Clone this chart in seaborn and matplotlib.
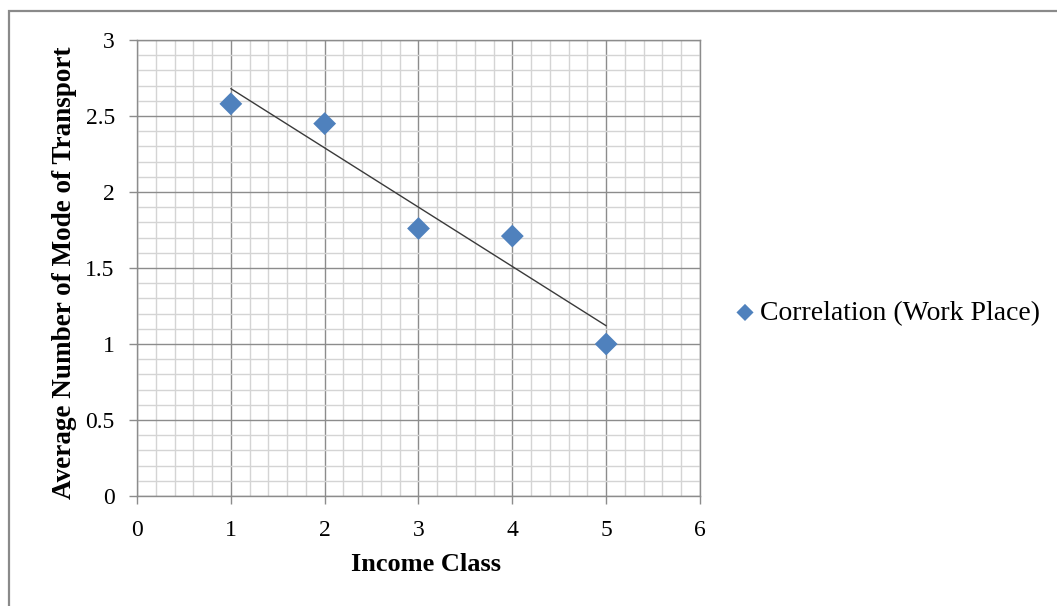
import matplotlib
matplotlib.use("Agg")
import matplotlib.pyplot as plt
from matplotlib.patches import Rectangle
from matplotlib.ticker import MultipleLocator
import numpy as np
import pandas as pd
import seaborn as sns

# Average number of transport modes by income class
income_class = [1, 2, 3, 4, 5]
avg_modes = [2.58, 2.45, 1.76, 1.71, 1.00]
series_label = "Correlation (Work Place)"

x_ticks = [0, 1, 2, 3, 4, 5, 6]
y_ticks = [0, 0.5, 1, 1.5, 2, 2.5, 3]

sns.set_theme(style="white")
plt.rcParams["font.family"] = ["Liberation Serif", "DejaVu Serif"]
plt.rcParams["text.color"] = "black"
plt.rcParams["axes.labelcolor"] = "black"

df = pd.DataFrame({"Income Class": income_class, "Average": avg_modes})

fig = plt.figure(figsize=(10.57, 6.06), dpi=100)
ax = fig.add_axes([137 / 1057, 1 - 496 / 606, (700 - 137) / 1057, (496 - 40) / 606])

# outer chart frame
fig.patches.append(Rectangle((9 / 1057, -0.1), 1.2, 1 - 11 / 606 + 0.1,
                             transform=fig.transFigure, fill=False,
                             edgecolor="#8a8a8a", linewidth=1.6, zorder=0))

major_c = "#8c8c8c"
minor_c = "#d4d4d4"

ax.set_xlim(0, 6)
ax.set_ylim(0, 3)
ax.xaxis.set_major_locator(MultipleLocator(1))
ax.xaxis.set_minor_locator(MultipleLocator(0.2))
ax.yaxis.set_major_locator(MultipleLocator(0.5))
ax.yaxis.set_minor_locator(MultipleLocator(0.1))
ax.grid(which="minor", color=minor_c, linewidth=1.0, zorder=0)
ax.grid(which="major", color=major_c, linewidth=1.0, zorder=0)
ax.set_axisbelow(True)

# linear trendline over the data range
sns.regplot(data=df, x="Income Class", y="Average", ax=ax, scatter=False,
            ci=None, truncate=True,
            line_kws={"color": "#3a3a3a", "linewidth": 1.0, "zorder": 2})

sns.scatterplot(data=df, x="Income Class", y="Average", ax=ax, marker="D",
                s=135, color="#4F81BD", edgecolor="none", linewidth=0,
                label=series_label, zorder=3)

ax.set_xticks(x_ticks)
ax.set_yticks(y_ticks)
ax.set_xticklabels([str(t) for t in x_ticks])
ax.set_yticklabels([f"{t:g}" for t in y_ticks])

ax.tick_params(axis="both", which="major", length=6, width=1, color=major_c,
               direction="out", labelsize=17, labelcolor="black")
ax.tick_params(axis="x", which="major", pad=11, bottom=True)
ax.tick_params(axis="y", which="major", pad=10, left=True)
ax.tick_params(which="minor", length=0)

for side in ["left", "bottom", "top", "right"]:
    ax.spines[side].set_visible(True)
    ax.spines[side].set_color(major_c)
    ax.spines[side].set_linewidth(1.0)

ax.set_xlabel("Income Class", fontsize=19, fontweight="bold", color="black")
ax.set_ylabel("Average Number of Mode of Transport", fontsize=19.5,
              fontweight="bold", color="black")
ax.xaxis.set_label_coords(0.514, -0.125)
ax.yaxis.set_label_coords(-0.107, 0.49)

leg = ax.legend(loc="center left", bbox_to_anchor=(720 / 1057, 1 - 313 / 606),
                bbox_transform=fig.transFigure, frameon=False, fontsize=20,
                markerscale=0.75, handletextpad=0.05, handlelength=1.0,
                borderaxespad=0)
for t in leg.get_texts():
    t.set_color("black")

fig.savefig("out.png", dpi=100)
